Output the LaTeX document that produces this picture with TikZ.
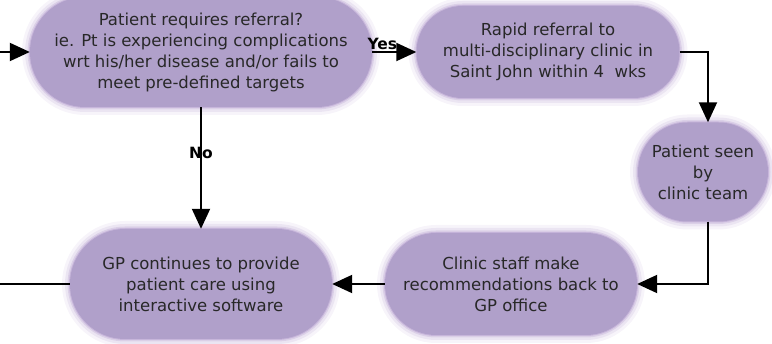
\documentclass[tikz,border=0pt]{standalone}
\usepackage{fontspec}
\setmainfont{DejaVu Sans}
\usetikzlibrary{positioning,shapes.misc,arrows.meta}
\definecolor{pill}{RGB}{176,160,202}
\definecolor{glow}{RGB}{140,105,180}
\definecolor{ink}{RGB}{40,40,40}
\tikzset{
  pillbox/.style={rounded rectangle, fill=pill, text=ink, align=center,
    font=\fontsize{16.5}{21}\selectfont, inner sep=0pt,
    preaction={draw=glow,line width=16pt,opacity=.07},
    preaction={draw=glow,line width=10pt,opacity=.11},
    preaction={draw=glow,line width=5pt,opacity=.17},
    preaction={draw=glow,line width=2pt,opacity=.25}},
  flow/.style={line width=2pt,-{Triangle[length=20pt,width=18pt]}},
  plain/.style={line width=2pt},
  lbl/.style={font=\fontsize{15.5}{16}\selectfont\bfseries}
}

\begin{document}
\begin{tikzpicture}[x=1pt,y=-1pt]
\useasboundingbox (0,0) rectangle (772,344);
% Flow steps
\node[pillbox,minimum width=342pt,minimum height=110pt] (referral) at (201,52)
  {Patient requires referral?\\ie. Pt is experiencing complications\\wrt his/her disease and/or fails to\\meet pre-defined targets};
\node[pillbox,minimum width=263pt,minimum height=92pt] (rapid) at (548,52)
  {Rapid referral to\\multi-disciplinary clinic in\\Saint John within 4\ \ wks};
\node[pillbox,minimum width=130pt,minimum height=99pt] (seen) at (703,172)
  {Patient seen\\by\\clinic team};
\node[pillbox,minimum width=252pt,minimum height=102pt] (recommend) at (511,284)
  {Clinic staff make\\recommendations back to\\GP office};
\node[pillbox,minimum width=262pt,minimum height=110pt] (gpcare) at (201,284)
  {GP continues to provide\\patient care using\\interactive software};
% Loose ends at the left margin
\coordinate (inlet) at (0,52);
\coordinate (outlet) at (0,284);
% Connectors
\draw[flow] (inlet) -- (referral.west);
\draw[flow] (referral.east) -- node[at start,anchor=base west,xshift=-9pt,yshift=2pt,lbl] {Yes} (rapid.west);
\draw[flow] (rapid.east) -| ([xshift=5pt]seen.north);
\draw[flow] ([xshift=5pt]seen.south) |- (recommend.east);
\draw[flow] (recommend.west) -- (gpcare.east);
\draw[plain] (gpcare.west) -- (outlet);
\draw[flow] (referral.south) -- node[pos=0.38,lbl] {No} (gpcare.north);
\end{tikzpicture}
\end{document}
